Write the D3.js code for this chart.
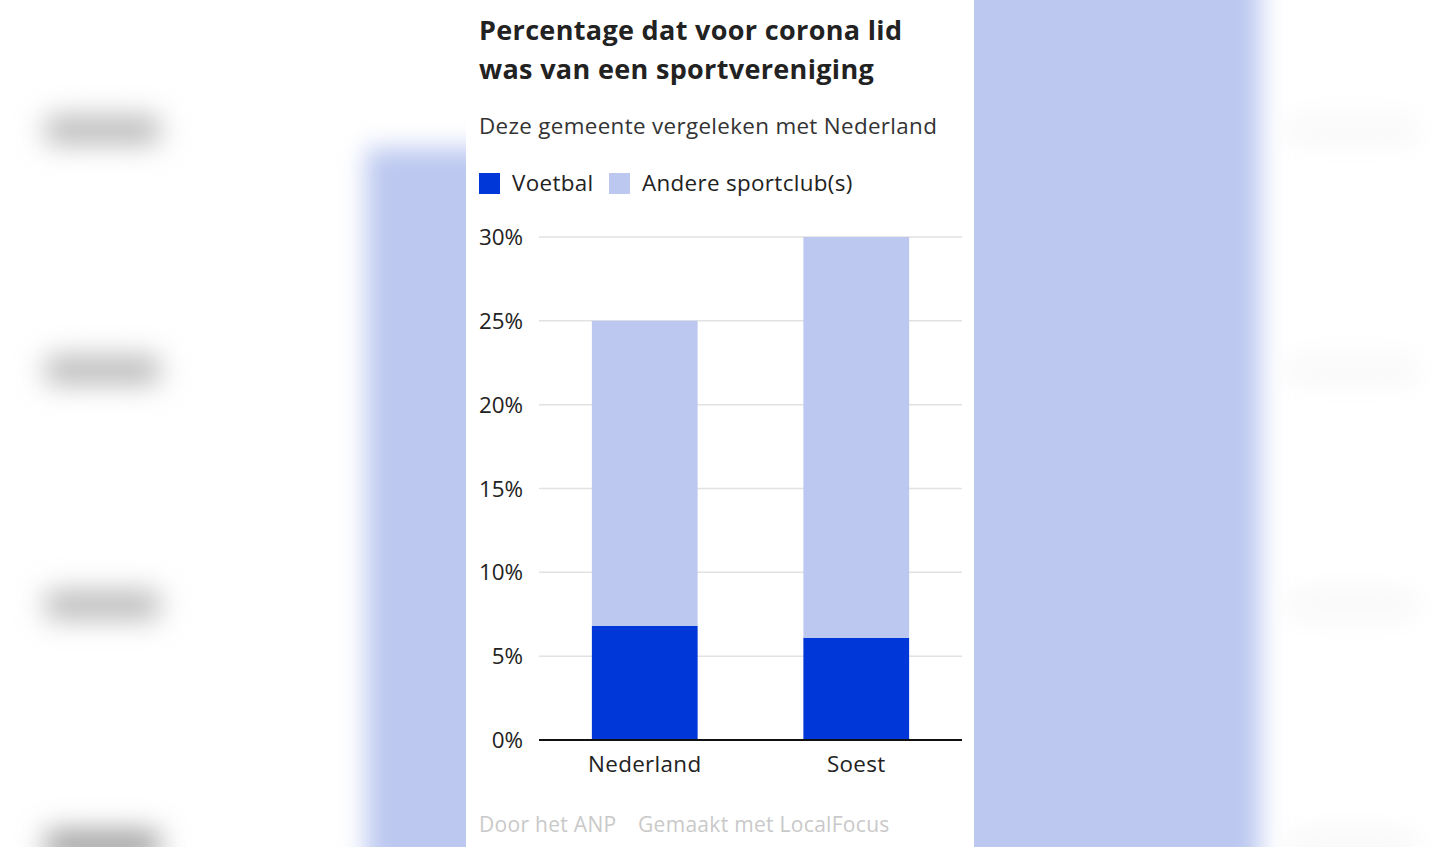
<!DOCTYPE html>
<html>
<head>
<meta charset="utf-8">
<script src="https://cdn.jsdelivr.net/npm/d3@7"></script>
<style>
  body { margin: 0; background: #fff; overflow: hidden; }
  svg { display: block; font-family: "Open Sans", "Noto Sans", sans-serif; }
</style>
</head>
<body>
<svg id="chart" width="1440" height="847"></svg>
<script>

const categories = ["Nederland", "Soest"];
const voetbal = [6.8, 6.1];
const andere = [18.2, 23.9];
const seriesNames = ["Voetbal", "Andere sportclub(s)"];
const yTicks = [0, 5, 10, 15, 20, 25, 30];

const COLORS = ["#0037d9", "#bcc8f0"];
const LS = 0.33; // letter spacing

const svg = d3.select("#chart");

// blurred backdrop (page behind the embed)
const defs = svg.append("defs");
defs.append("filter").attr("id", "blur").attr("x", "-50%").attr("y", "-50%")
    .attr("width", "200%").attr("height", "200%")
  .append("feGaussianBlur").attr("stdDeviation", 12);
defs.append("filter").attr("id", "blur2").attr("x", "-50%").attr("y", "-50%")
    .attr("width", "200%").attr("height", "200%")
  .append("feGaussianBlur").attr("stdDeviation", 14);

const bg = svg.append("g").attr("filter", "url(#blur)");
bg.append("rect").attr("x", 366).attr("y", 148).attr("width", 200).attr("height", 800).attr("fill", "#bcc8f0");
bg.append("rect").attr("x", 900).attr("y", -40).attr("width", 360).attr("height", 960).attr("fill", "#bcc8f0");

const blobs = svg.append("g").attr("filter", "url(#blur2)");
[130, 370, 605, 845].forEach((cy, i) => {
  blobs.append("rect").attr("x", 45).attr("y", cy - 14).attr("width", 115).attr("height", 28)
    .attr("rx", 8).attr("fill", i == 3 ? "#9a9a9a" : "#b8b8b8");
  blobs.append("rect").attr("x", 1290).attr("y", cy - 12).attr("width", 125).attr("height", 24)
    .attr("fill", "#f6f6f6");
});

// white panel
svg.append("rect").attr("x", 466).attr("y", 0).attr("width", 508).attr("height", 847).attr("fill", "#fff");

const LEFT = 479;

svg.append("text").attr("x", LEFT).attr("y", 40)
   .attr("font-size", 27).attr("font-weight", 700).attr("fill", "#222")
   .attr("letter-spacing", LS)
   .text("Percentage dat voor corona lid");
svg.append("text").attr("x", LEFT).attr("y", 79)
   .attr("font-size", 27).attr("font-weight", 700).attr("fill", "#222")
   .attr("letter-spacing", LS)
   .text("was van een sportvereniging");

svg.append("text").attr("x", LEFT).attr("y", 134)
   .attr("font-size", 22.4).attr("fill", "#333").attr("letter-spacing", LS)
   .text("Deze gemeente vergeleken met Nederland");

// legend
const legendX = [479, 609];
seriesNames.forEach((name, i) => {
  svg.append("rect").attr("x", legendX[i]).attr("y", 173).attr("width", 21).attr("height", 21)
     .attr("fill", COLORS[i]);
  svg.append("text").attr("x", legendX[i] + 33).attr("y", 191)
     .attr("font-size", 22.4).attr("fill", "#222").attr("letter-spacing", LS).text(name);
});

// chart
const plot = {left: 539, right: 962, top: 237, bottom: 740};

const x = d3.scaleBand().domain(categories)
            .range([plot.left, plot.right])
            .paddingInner(0.5).paddingOuter(0.25);
const y = d3.scaleLinear().domain([0, 30]).range([plot.bottom, plot.top]);

const g = svg.append("g");

g.selectAll(".grid").data(yTicks.filter(t => t > 0)).enter()
  .append("line")
    .attr("x1", plot.left).attr("x2", plot.right)
    .attr("y1", d => y(d)).attr("y2", d => y(d))
    .attr("stroke", "#e2e2e2").attr("stroke-width", 1.5);

g.selectAll(".ylab").data(yTicks).enter()
  .append("text")
    .attr("x", 523).attr("y", d => y(d) + 8)
    .attr("text-anchor", "end").attr("font-size", 22.4).attr("fill", "#222")
    .text(d => d + "%");

const rows = categories.map((c, i) => ({cat: c, voetbal: voetbal[i], andere: andere[i]}));
const stack = d3.stack().keys(["voetbal", "andere"])(rows);

g.selectAll(".series").data(stack).enter()
  .append("g").attr("fill", (d, i) => COLORS[i])
  .selectAll("rect").data(d => d).enter()
  .append("rect")
    .attr("x", d => x(d.data.cat))
    .attr("width", x.bandwidth())
    .attr("y", d => y(d[1]))
    .attr("height", d => y(d[0]) - y(d[1]));

g.append("line")
  .attr("x1", plot.left).attr("x2", plot.right)
  .attr("y1", plot.bottom).attr("y2", plot.bottom)
  .attr("stroke", "#111").attr("stroke-width", 2);

g.selectAll(".xlab").data(categories).enter()
  .append("text")
    .attr("x", d => x(d) + x.bandwidth() / 2).attr("y", 772)
    .attr("text-anchor", "middle").attr("font-size", 22.4).attr("fill", "#222")
    .attr("letter-spacing", LS)
    .text(d => d);

// footer
svg.append("text").attr("x", LEFT).attr("y", 832)
   .attr("font-size", 21).attr("fill", "#c9c9c9").attr("letter-spacing", 0.3).text("Door het ANP");
svg.append("text").attr("x", 638).attr("y", 832)
   .attr("font-size", 21).attr("fill", "#c9c9c9").attr("letter-spacing", 0.3).text("Gemaakt met LocalFocus");

</script>
</body>
</html>
